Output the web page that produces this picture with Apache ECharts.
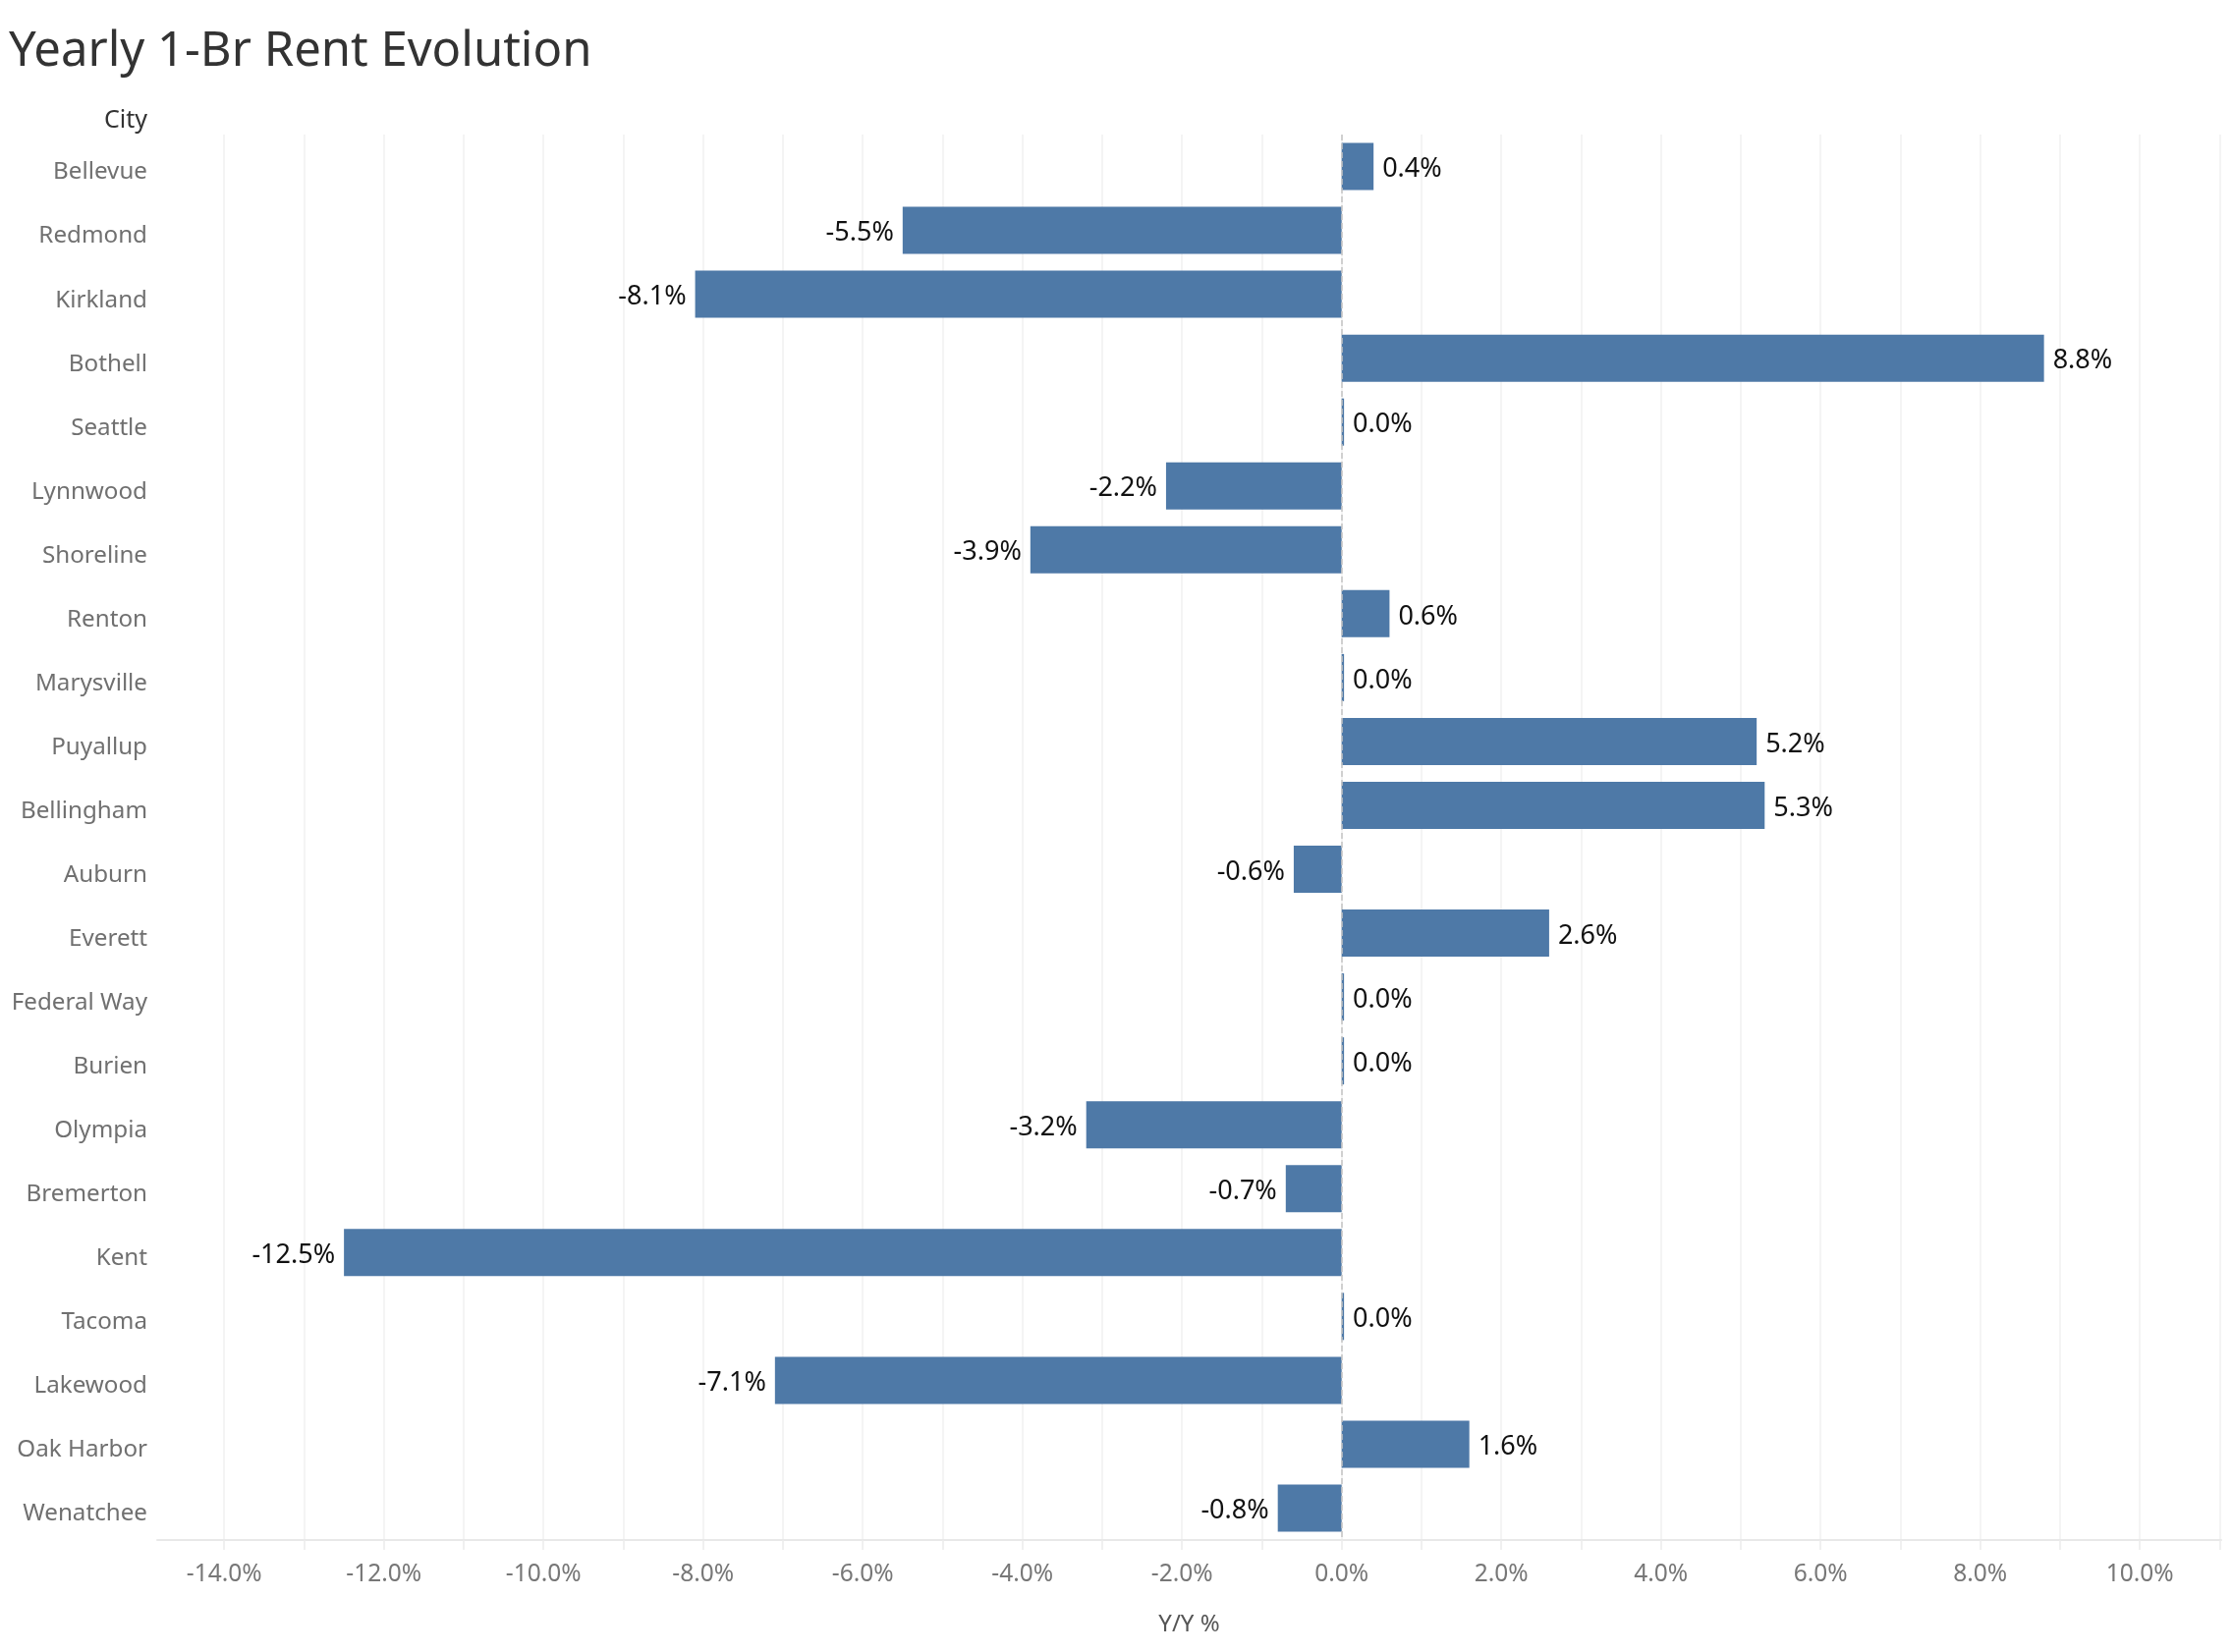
<!DOCTYPE html>
<html>
<head>
<meta charset="utf-8">
<script src="https://cdn.jsdelivr.net/npm/echarts@6/dist/echarts.min.js"></script>
<style>
html,body{margin:0;padding:0;background:#fff;}
#chart{width:2272px;height:1682px;}
</style>
</head>
<body>
<div id="chart"></div>
<script>
const cities = ['Bellevue','Redmond','Kirkland','Bothell','Seattle','Lynnwood','Shoreline','Renton','Marysville','Puyallup','Bellingham','Auburn','Everett','Federal Way','Burien','Olympia','Bremerton','Kent','Tacoma','Lakewood','Oak Harbor','Wenatchee'];
const yoyValues = [0.4,-5.5,-8.1,8.8,0.03,-2.2,-3.9,0.6,0.03,5.2,5.3,-0.6,2.6,0.03,0.03,-3.2,-0.7,-12.5,0.03,-7.1,1.6,-0.8];
const xTickValues = [-14,-13,-12,-11,-10,-9,-8,-7,-6,-5,-4,-3,-2,-1,0,1,2,3,4,5,6,7,8,9,10,11];
const xLabelValues = [-14,-12,-10,-8,-6,-4,-2,0,2,4,6,8,10];
const xMin = -14.84, xMax = 11.02;

const FONT = '"Noto Sans", "Open Sans", sans-serif';
const chart = echarts.init(document.getElementById('chart'));

const barData = yoyValues.map(v => ({
  value: v,
  label: { position: v < 0 ? 'left' : 'right' }
}));

chart.setOption({
  animation: false,
  backgroundColor: '#fff',
  title: {
    text: 'Yearly 1-Br Rent Evolution',
    left: 9, top: 29, padding: 0,
    textStyle: { fontFamily: FONT, fontSize: 49, fontWeight: 'normal', color: '#333' }
  },
  graphic: [{
    type: 'text', x: 150, y: 123,
    style: { text: 'City', fontFamily: FONT, fontSize: 25, fill: '#333', align: 'right', verticalAlign: 'middle' }
  }],
  grid: { left: 160, right: 11, top: 137, bottom: 114, containLabel: false },
  xAxis: {
    type: 'value', min: xMin, max: xMax,
    name: 'Y/Y %', nameLocation: 'middle', nameGap: 74,
    nameTextStyle: { fontFamily: FONT, fontSize: 24, color: '#555' },
    axisLine: { show: true, lineStyle: { color: '#e8e8e8', width: 2 } },
    axisTick: { show: true, length: 10, customValues: xTickValues, lineStyle: { color: '#ececec', width: 1.5 } },
    axisLabel: {
      customValues: xLabelValues, margin: 23,
      fontFamily: FONT, fontSize: 24.5, color: '#777',
      formatter: v => v.toFixed(1) + '%'
    },
    splitLine: { show: true, lineStyle: { color: '#f0f0f0', width: 1.5 } }
  },
  yAxis: {
    type: 'category', data: cities, inverse: true,
    axisLine: { show: false }, axisTick: { show: false },
    axisLabel: { margin: 10, fontFamily: FONT, fontSize: 24.2, color: '#707070', verticalAlign: 'top', lineHeight: 12 },
    splitLine: { show: false }
  },
  series: [{
    type: 'bar', data: barData, barWidth: 48,
    itemStyle: { color: '#4e79a7' },
    label: {
      show: true, distance: 9,
      fontFamily: FONT, fontSize: 27, color: '#111',
      verticalAlign: 'top', lineHeight: 6,
      formatter: p => p.value.toFixed(1) + '%'
    },
    markLine: {
      silent: true, symbol: 'none',
      label: { show: false },
      lineStyle: { type: 'dashed', color: '#c4c4c4', width: 1.5 },
      data: [{ xAxis: 0 }]
    }
  }]
});
</script>
</body>
</html>
